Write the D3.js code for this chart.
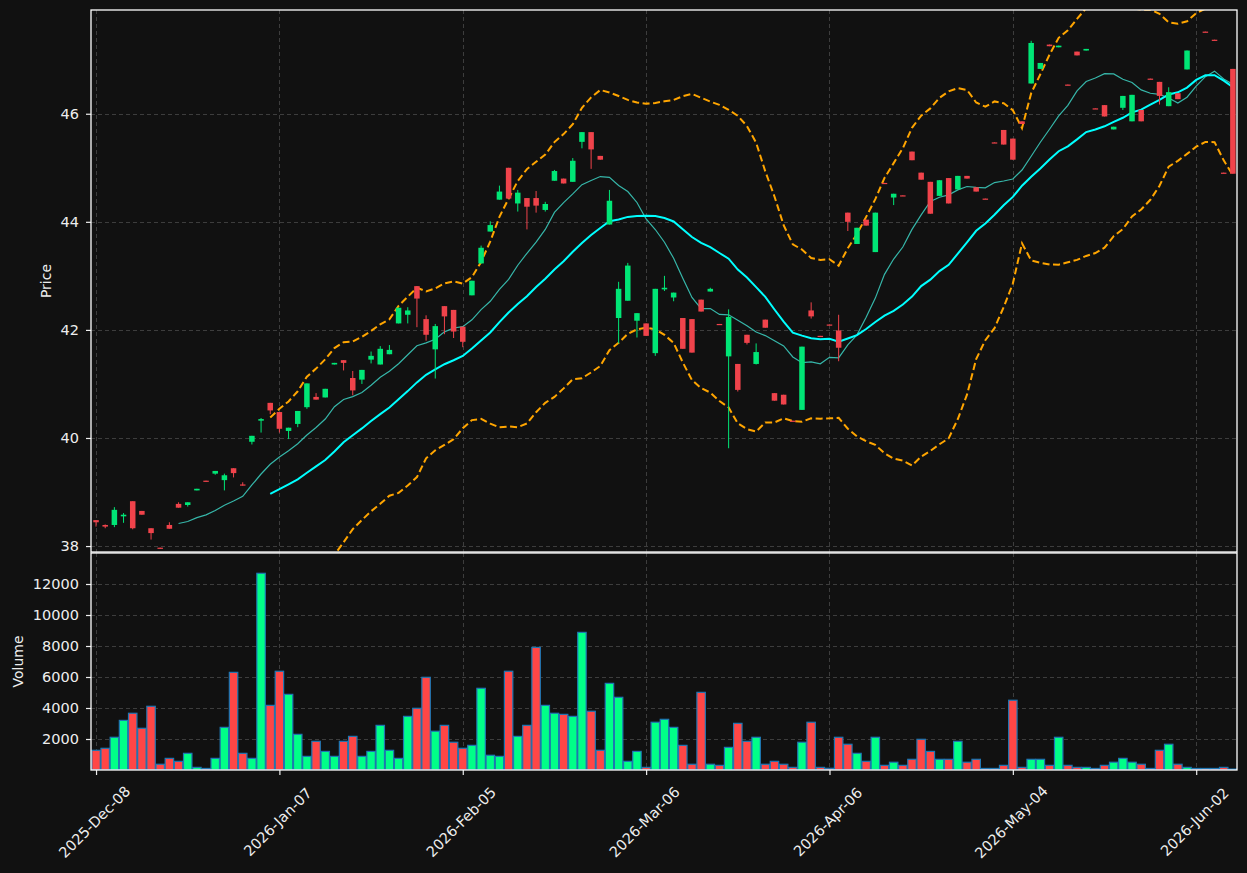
<!DOCTYPE html>
<html>
<head>
<meta charset="utf-8">
<script src="https://cdn.jsdelivr.net/npm/d3@7"></script>
<style>
  html, body { margin: 0; padding: 0; background: #111111; }
  svg { display: block; font-family: "DejaVu Sans", sans-serif; }
</style>
</head>
<body>
<div id="chart"></div>
<script>
// daily OHLC + volume, one entry per trading day (index based x axis)
const opens = [
    38.48, 38.39, 38.39, 38.55, 38.83, 38.65, 38.33, 37.97, 38.39, 38.78,
    38.76, 39.03, 39.21, 39.34, 39.22, 39.44, 39.14, 39.93, 40.32, 40.65,
    40.48, 40.13, 40.26, 40.57, 40.76, 40.75, 41.36, 41.44, 41.11, 41.08,
    41.45, 41.36, 41.55, 42.12, 42.28, 42.81, 42.20, 41.64, 42.44, 42.37,
    42.06, 42.64, 43.23, 43.82, 44.41, 45.00, 44.34, 44.44, 44.44, 44.22,
    44.76, 44.80, 44.74, 45.48, 45.66, 45.22, 43.95, 42.22, 42.54, 42.17,
    42.12, 41.57, 42.75, 42.60, 42.22, 42.20, 42.56, 42.71, 42.11, 41.51,
    41.37, 41.91, 41.37, 42.19, 40.83, 40.80, 40.32, 40.52, 42.36, 41.89,
    42.10, 41.99, 44.17, 43.59, 44.04, 43.44, 44.72, 44.45, 44.49, 45.30,
    44.91, 44.74, 44.48, 44.81, 44.60, 44.85, 44.64, 44.43, 45.47, 45.70,
    45.54, 45.86, 46.56, 46.83, 47.28, 47.23, 46.54, 47.15, 47.17, 46.10,
    46.16, 45.71, 46.11, 45.86, 46.07, 46.65, 46.59, 46.14, 46.38, 46.82,
    48.02, 47.52, 47.37, 44.91, 46.83
];
const highs = [
    38.48, 38.40, 38.72, 38.61, 38.83, 38.65, 38.33, 37.97, 38.44, 38.81,
    38.81, 39.06, 39.21, 39.39, 39.34, 39.44, 39.18, 40.04, 40.37, 40.65,
    40.48, 40.19, 40.50, 41.01, 40.83, 40.91, 41.39, 41.44, 41.24, 41.26,
    41.60, 41.70, 41.72, 42.41, 42.42, 42.81, 42.27, 42.11, 42.44, 42.37,
    42.06, 42.91, 43.56, 44.01, 44.67, 45.00, 44.59, 44.44, 44.57, 44.37,
    44.96, 44.80, 45.18, 45.66, 45.66, 45.22, 44.59, 42.89, 43.24, 42.31,
    42.12, 42.76, 43.00, 42.69, 42.22, 42.20, 42.56, 42.78, 42.11, 42.38,
    41.37, 41.91, 41.75, 42.19, 40.83, 40.80, 40.32, 41.69, 42.51, 41.89,
    42.10, 42.28, 44.17, 43.89, 44.04, 44.17, 44.72, 44.52, 44.49, 45.30,
    44.91, 44.74, 44.77, 44.81, 44.85, 44.85, 44.64, 44.43, 45.47, 45.70,
    45.54, 45.86, 47.35, 46.94, 47.28, 47.26, 46.54, 47.15, 47.20, 46.10,
    46.16, 45.76, 46.33, 46.35, 46.07, 46.65, 46.59, 46.49, 46.38, 47.17,
    48.02, 47.52, 47.37, 44.91, 46.83
];
const lows = [
    38.36, 38.33, 38.35, 38.43, 38.31, 38.58, 38.12, 37.95, 38.32, 38.71,
    38.73, 39.03, 39.19, 39.32, 39.03, 39.27, 39.12, 39.88, 40.10, 40.44,
    40.10, 39.98, 40.20, 40.54, 40.71, 40.75, 41.36, 41.25, 40.79, 41.00,
    41.38, 41.36, 41.55, 42.12, 42.12, 42.05, 41.80, 41.10, 41.92, 41.85,
    41.68, 42.64, 43.23, 43.82, 44.41, 44.43, 44.19, 43.86, 44.17, 44.19,
    44.76, 44.71, 44.74, 45.36, 44.98, 45.15, 43.95, 41.75, 42.54, 41.86,
    41.89, 41.52, 42.72, 42.53, 41.65, 41.58, 42.34, 42.71, 42.10, 39.81,
    40.86, 41.73, 41.36, 42.04, 40.69, 40.62, 40.31, 40.52, 42.21, 41.87,
    42.09, 41.42, 43.83, 43.59, 43.93, 43.44, 44.71, 44.31, 44.48, 45.14,
    44.78, 44.15, 44.48, 44.34, 44.60, 44.80, 44.56, 44.42, 45.46, 45.43,
    45.15, 45.81, 46.56, 46.83, 47.25, 47.23, 46.53, 47.08, 47.17, 46.09,
    45.95, 45.71, 46.07, 45.86, 45.86, 46.64, 46.17, 46.14, 46.27, 46.82,
    47.98, 47.51, 47.36, 44.90, 44.89
];
const closes = [
    38.44, 38.36, 38.67, 38.58, 38.33, 38.58, 38.24, 37.95, 38.32, 38.71,
    38.81, 39.06, 39.19, 39.39, 39.31, 39.35, 39.12, 40.04, 40.35, 40.51,
    40.17, 40.19, 40.50, 41.01, 40.71, 40.91, 41.39, 41.39, 40.88, 41.26,
    41.52, 41.65, 41.63, 42.41, 42.36, 42.58, 41.91, 42.07, 42.25, 41.97,
    41.78, 42.91, 43.52, 43.94, 44.56, 44.43, 44.54, 44.28, 44.30, 44.33,
    44.94, 44.71, 45.13, 45.66, 45.34, 45.15, 44.39, 42.76, 43.19, 42.31,
    41.89, 42.76, 42.78, 42.69, 41.65, 41.58, 42.34, 42.76, 42.10, 42.24,
    40.89, 41.76, 41.59, 42.04, 40.69, 40.62, 40.31, 41.69, 42.25, 41.88,
    42.09, 41.67, 44.00, 43.89, 43.93, 44.17, 44.71, 44.52, 44.48, 45.14,
    44.78, 44.15, 44.77, 44.34, 44.85, 44.80, 44.56, 44.42, 45.46, 45.43,
    45.15, 45.81, 47.31, 46.94, 47.25, 47.26, 46.53, 47.08, 47.20, 46.09,
    45.95, 45.76, 46.33, 46.35, 45.86, 46.64, 46.33, 46.40, 46.27, 47.17,
    48.00, 47.51, 47.36, 44.90, 44.89
];
const volumes = [
    1270, 1400, 2110, 3200, 3660, 2690, 4110, 370, 750, 560,
    1075, 170, 100, 750, 2750, 6300, 1075, 750, 12690, 4170,
    6370, 4880, 2300, 880, 1850, 1200, 880, 1850, 2170, 880,
    1200, 2880, 1270, 750, 3460, 3980, 5980, 2500, 2880, 1790,
    1400, 1590, 5270, 950, 880, 6370, 2170, 2880, 7910, 4170,
    3660, 3590, 3460, 8880, 3790, 1270, 5590, 4690, 560, 1200,
    170, 3080, 3270, 2750, 1590, 370, 5010, 370, 300, 1460,
    3010, 1850, 2110, 370, 560, 370, 170, 1790, 3080, 170,
    110, 2110, 1660, 1075, 560, 2110, 300, 500, 300, 690,
    1980, 1200, 690, 690, 1850, 500, 690, 100, 100, 300,
    4500, 170, 690, 690, 300, 2110, 300, 170, 170, 100,
    300, 500, 750, 500, 370, 100, 1270, 1660, 370, 170,
    100, 100, 100, 170, 60
];

const tickIndex = [0, 20, 40, 60, 80, 100, 120];
const tickLabels = ["2025-Dec-08", "2026-Jan-07", "2026-Feb-05", "2026-Mar-06",
                    "2026-Apr-06", "2026-May-04", "2026-Jun-02"];
const priceTicks = [38, 40, 42, 44, 46];
const volumeTicks = [2000, 4000, 6000, 8000, 10000, 12000];

const width = 1247;
const height = 873;
const left = 91, right = 1237;
const priceTop = 10, priceBottom = 552;
const volTop = 553, volBottom = 770;

const upColor = "#00e676";
const downColor = "#f0434b";
const volUp = "#00ff88";
const volDown = "#ff4646";
const gridColor = "#3d3d3d";
const textColor = "#eeeeee";

// rolling helpers for the moving averages / bands
function rolling(values, n, fn) {
    return values.map((v, i) => i < n - 1 ? null : fn(values.slice(i - n + 1, i + 1)));
}
const ma10 = rolling(closes, 10, w => d3.mean(w));
const ma20 = rolling(closes, 20, w => d3.mean(w));
const sd20 = rolling(closes, 20, w => d3.deviation(w));
const bbUpper = ma20.map((m, i) => m === null ? null : m + 2 * sd20[i]);
const bbLower = ma20.map((m, i) => m === null ? null : m - 2 * sd20[i]);

const x = d3.scaleLinear().domain([-0.55, closes.length - 0.55]).range([left, right]);
const step = x(1) - x(0);
const y = d3.scaleLinear().domain([37.89, 47.92]).range([priceBottom, priceTop]);
const yv = d3.scaleLinear().domain([0, 14000]).range([volBottom, volTop]);

const svg = d3.select("#chart").append("svg")
    .attr("width", width)
    .attr("height", height);

svg.append("rect").attr("width", width).attr("height", height).attr("fill", "#111111");

const defs = svg.append("defs");
defs.append("clipPath").attr("id", "clipPrice")
    .append("rect").attr("x", left).attr("y", priceTop)
    .attr("width", right - left).attr("height", priceBottom - priceTop);
defs.append("clipPath").attr("id", "clipVol")
    .append("rect").attr("x", left).attr("y", volTop)
    .attr("width", right - left).attr("height", volBottom - volTop);

// grid
function grid(yScale, yTicks, top, bottom) {
    const g = svg.append("g")
        .attr("stroke", gridColor)
        .attr("stroke-width", 1)
        .attr("stroke-dasharray", "4,3");
    g.selectAll("line.h").data(yTicks).join("line")
        .attr("x1", left).attr("x2", right)
        .attr("y1", d => Math.round(yScale(d)) + 0.5)
        .attr("y2", d => Math.round(yScale(d)) + 0.5);
    g.selectAll("line.v").data(tickIndex).join("line")
        .attr("x1", d => Math.round(x(d)) + 0.5).attr("x2", d => Math.round(x(d)) + 0.5)
        .attr("y1", top).attr("y2", bottom);
}
grid(y, priceTicks, priceTop, priceBottom);
grid(yv, volumeTicks, volTop, volBottom);

// price panel lines
const lineGen = d3.line()
    .defined(d => d !== null)
    .x((d, i) => x(i))
    .y(d => y(d));

const price = svg.append("g").attr("clip-path", "url(#clipPrice)");

price.append("path").datum(bbUpper)
    .attr("fill", "none").attr("stroke", "#ffa500")
    .attr("stroke-width", 2).attr("stroke-dasharray", "7,3.5")
    .attr("d", lineGen);
price.append("path").datum(bbLower)
    .attr("fill", "none").attr("stroke", "#ffa500")
    .attr("stroke-width", 2).attr("stroke-dasharray", "7,3.5")
    .attr("d", lineGen);
price.append("path").datum(ma10)
    .attr("fill", "none").attr("stroke", "#40e0d0")
    .attr("stroke-opacity", 0.8).attr("stroke-width", 1.2)
    .attr("d", lineGen);
price.append("path").datum(ma20)
    .attr("fill", "none").attr("stroke", "#00ffff")
    .attr("stroke-width", 2)
    .attr("d", lineGen);

// candles
const candles = price.append("g")
    .selectAll("g")
    .data(closes.map((c, i) => ({ i, o: opens[i], h: highs[i], l: lows[i], c })))
    .join("g")
    .attr("fill", d => d.c >= d.o ? upColor : downColor)
    .attr("stroke", d => d.c >= d.o ? upColor : downColor);

candles.append("line")
    .attr("x1", d => x(d.i)).attr("x2", d => x(d.i))
    .attr("y1", d => y(d.h)).attr("y2", d => y(d.l))
    .attr("stroke-width", 1);

candles.append("rect")
    .attr("x", d => x(d.i) - step * 0.3)
    .attr("width", step * 0.6)
    .attr("y", d => y(Math.max(d.o, d.c)))
    .attr("height", d => Math.max(1.2, y(Math.min(d.o, d.c)) - y(Math.max(d.o, d.c))))
    .attr("stroke", "none");

// volume bars
svg.append("g").attr("clip-path", "url(#clipVol)")
    .selectAll("rect")
    .data(volumes)
    .join("rect")
    .attr("x", (d, i) => x(i) - step * 0.46)
    .attr("width", step * 0.92)
    .attr("y", d => yv(d))
    .attr("height", d => volBottom - yv(d))
    .attr("fill", (d, i) => closes[i] >= opens[i] ? volUp : volDown)
    .attr("stroke", "#1f77b4")
    .attr("stroke-width", 1.2);

// axes
function styleAxis(g) {
    g.attr("font-size", null).attr("font-family", null);
    g.selectAll("path.domain").remove();
    g.selectAll(".tick line").attr("stroke", textColor).attr("stroke-width", 1.2);
    g.selectAll(".tick text")
        .attr("fill", textColor)
        .attr("font-size", 14.5)
        .attr("font-family", "DejaVu Sans, sans-serif");
}

svg.append("g")
    .attr("transform", `translate(${left},0)`)
    .call(d3.axisLeft(y).tickValues(priceTicks).tickSize(5).tickPadding(7).tickFormat(d3.format("d")))
    .call(styleAxis);

svg.append("g")
    .attr("transform", `translate(${left},0)`)
    .call(d3.axisLeft(yv).tickValues(volumeTicks).tickSize(5).tickPadding(7).tickFormat(d3.format("d")))
    .call(styleAxis);

const xAxisG = svg.append("g")
    .attr("transform", `translate(0,${volBottom})`)
    .call(d3.axisBottom(x).tickValues(tickIndex).tickSize(5)
        .tickFormat((d, i) => tickLabels[i]))
    .call(styleAxis);

xAxisG.selectAll(".tick text")
    .attr("y", 0).attr("dy", null)
    .attr("text-anchor", "middle")
    .attr("dominant-baseline", "central")
    .attr("transform", "translate(-2,52) rotate(-45)");

// panel frames
[[priceTop, priceBottom], [volTop, volBottom]].forEach(([t, b]) => {
    svg.append("rect")
        .attr("x", left).attr("y", t)
        .attr("width", right - left).attr("height", b - t)
        .attr("fill", "none")
        .attr("stroke", "#ffffff")
        .attr("stroke-width", 1.3);
});

// axis titles
svg.append("text")
    .attr("transform", `translate(46,${(priceTop + priceBottom) / 2}) rotate(-90)`)
    .attr("text-anchor", "middle")
    .attr("dominant-baseline", "central")
    .attr("fill", textColor)
    .style("font-size", "14px")
    .text("Price");

svg.append("text")
    .attr("transform", `translate(18,${(volTop + volBottom) / 2}) rotate(-90)`)
    .attr("text-anchor", "middle")
    .attr("dominant-baseline", "central")
    .attr("fill", textColor)
    .style("font-size", "14px")
    .text("Volume");
</script>
</body>
</html>
